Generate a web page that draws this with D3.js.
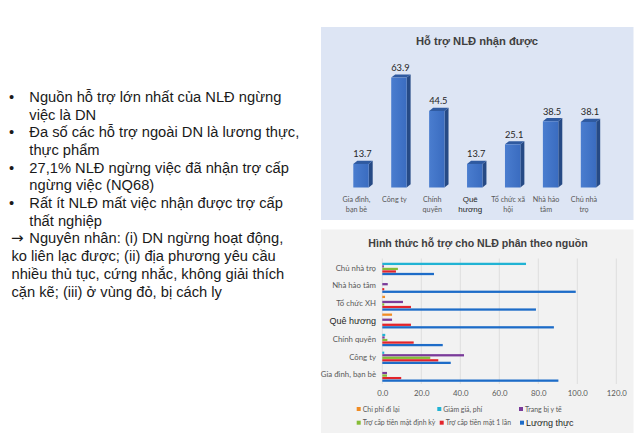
<!DOCTYPE html>
<html><head><meta charset="utf-8">
<script src="https://cdn.jsdelivr.net/npm/d3@7"></script>
<style>body{margin:0;background:#fff;}svg{display:block;}</style>
</head><body>
<svg id="c" width="640" height="437"></svg>
<script>
// ---------- Data ----------
const bulletLines = [
  ["•", "Nguồn hỗ trợ lớn nhất của NLĐ ngừng"],
  ["", "việc là DN"],
  ["•", "Đa số các hỗ trợ ngoài DN là lương thực,"],
  ["", "thực phẩm"],
  ["•", "27,1% NLĐ ngừng việc đã nhận trợ cấp"],
  ["", "ngừng việc (NQ68)"],
  ["•", "Rất ít NLĐ mất việc nhận được trợ cấp"],
  ["", "thất nghiệp"]
];
const causeLines = [
  ["→", "Nguyên nhân: (i) DN ngừng hoạt động,"],
  ["", "ko liên lạc được; (ii) địa phương yêu cầu"],
  ["", "nhiều thủ tục, cứng nhắc, không giải thích"],
  ["", "cặn kẽ; (iii) ở vùng đỏ, bị cách ly"]
];

const topTitle = "Hỗ trợ NLĐ nhận được";
const topCategories = ["Gia đình, bạn bè", "Công ty", "Chính quyền", "Quê hương", "Tổ chức xã hội", "Nhà hảo tâm", "Chủ nhà trọ"];
const topLabelLines = [["Gia đình,", "bạn bè"], ["Công ty"], ["Chính", "quyền"], ["Quê", "hương"], ["Tổ chức xã", "hội"], ["Nhà hảo", "tâm"], ["Chủ nhà", "trọ"]];
const topValues = [13.7, 63.9, 44.5, 13.7, 25.1, 38.5, 38.1];

const bottomTitle = "Hình thức hỗ trợ cho NLĐ phân theo nguồn";
const bottomCategories = ["Chủ nhà trọ", "Nhà hảo tâm", "Tổ chức XH", "Quê hương", "Chính quyền", "Công ty", "Gia đình, bạn bè"];
const seriesNames = ["Chi phí đi lại", "Giảm giá, phí", "Trang bị y tế", "Trợ cấp tiền mặt định kỳ", "Trợ cấp tiền mặt 1 lần", "Lương thực"];
const chiPhiDiLai   = [0,    0,    1.4,  5.0,  0,    0,    0];
const giamGiaPhi    = [73.7, 0,    0,    0,    1.5,  1.0,  0];
const trangBiYTe    = [0.8,  2.8,  10.6, 5.0,  1.2,  41.9, 2.4];
const troCapDinhKy  = [8.0,  0,    1.0,  0,    2.6,  24.6, 2.4];
const troCap1Lan    = [7.0,  1.0,  14.7, 14.7, 16.1, 28.7, 9.7];
const luongThuc     = [26.5, 99.2, 78.8, 88.0, 31.0, 35.1, 90.3];
const xTicks = [0, 20, 40, 60, 80, 100, 120];

// ---------- Styles ----------
const seriesColors = ["#f08c24", "#21b3d4", "#7a3b9a", "#86bc36", "#e3242b", "#1d6cc8"];
const seriesData = [chiPhiDiLai, giamGiaPhi, trangBiYTe, troCapDinhKy, troCap1Lan, luongThuc];
const svg = d3.select("#c");
const chartFont = "Lato, 'Open Sans', sans-serif";

// ---------- Left text ----------
const txt = svg.append("g").attr("font-family", "'Liberation Sans', Arial, sans-serif")
  .attr("font-size", 14.7).attr("fill", "#1a1a1a");
const lineH = 17.7, y0 = 101.8;
bulletLines.forEach((l, i) => {
  if (l[0]) txt.append("text").attr("x", 9).attr("y", y0 + i * lineH).text(l[0]);
  txt.append("text").attr("x", 29.3).attr("y", y0 + i * lineH).text(l[1]);
});
causeLines.forEach((l, i) => {
  const yy = y0 + (bulletLines.length + i) * lineH;
  if (l[0]) {
    txt.append("text").attr("x", 11).attr("y", yy).attr("font-family", "'DejaVu Sans', sans-serif")
      .attr("font-size", 15).attr("textLength", 16).text(l[0]);
    txt.append("text").attr("x", 29.3).attr("y", yy).text(l[1]);
  } else {
    txt.append("text").attr("x", 11.5).attr("y", yy).text(l[1]);
  }
});

// ---------- Top chart ----------
svg.append("rect").attr("x", 321).attr("y", 27).attr("width", 312.5).attr("height", 193).attr("fill", "#dde5f4");
svg.append("text").attr("x", 477).attr("y", 45).attr("text-anchor", "middle")
  .attr("font-family", "'Liberation Sans', Arial, sans-serif").attr("font-weight", "bold")
  .attr("font-size", 11.2).attr("fill", "#404040").text(topTitle);

const defs = svg.append("defs");
const grad = defs.append("linearGradient").attr("id", "gfront").attr("x1", 0).attr("x2", 1).attr("y1", 0).attr("y2", 0);
grad.append("stop").attr("offset", "0%").attr("stop-color", "#4a7dcf");
grad.append("stop").attr("offset", "100%").attr("stop-color", "#3a6cc0");

const xt = d3.scalePoint().domain(topCategories).range([361, 588.5]);
const yt = d3.scaleLinear().domain([0, 70]).range([187.5, 67.1]);
const bw = 15.4, dx = 4, dy = 3.2;
const tg = svg.append("g");
topCategories.forEach((c, i) => {
  const v = topValues[i];
  const x0 = xt(c) - bw / 2, x1 = xt(c) + bw / 2;
  const yTop = yt(v), yB = yt(0);
  tg.append("path").attr("d", `M${x1},${yTop}L${x1 + dx},${yTop - dy}L${x1 + dx},${yB - dy}L${x1},${yB}Z`).attr("fill", "#264a85");
  tg.append("path").attr("d", `M${x0},${yTop}L${x0 + dx},${yTop - dy}L${x1 + dx},${yTop - dy}L${x1},${yTop}Z`).attr("fill", "#2f5aa0");
  tg.append("rect").attr("x", x0).attr("y", yTop).attr("width", bw).attr("height", yB - yTop).attr("fill", "url(#gfront)");
  tg.append("text").attr("x", xt(c) + 1.5).attr("y", yTop - 6.5).attr("text-anchor", "middle")
    .attr("font-family", chartFont).attr("font-size", 9.3).attr("fill", "#262626").text(v.toFixed(1));
  const isQ = c === "Quê hương";
  topLabelLines[i].forEach((ln, j) => {
    tg.append("text").attr("x", xt(c) - 4.5).attr("y", 202 + j * 10).attr("text-anchor", "middle")
      .attr("font-family", isQ ? "'Liberation Sans', Arial, sans-serif" : chartFont)
      .attr("font-size", isQ ? 8 : 7.2).attr("fill", isQ ? "#262626" : "#595959").text(ln);
  });
});

// ---------- Bottom chart ----------
svg.append("rect").attr("x", 321).attr("y", 229.5).attr("width", 312.5).attr("height", 203.5).attr("fill", "#f2f2f2");
svg.append("text").attr("x", 478).attr("y", 247).attr("text-anchor", "middle")
  .attr("font-family", "'Liberation Sans', Arial, sans-serif").attr("font-weight", "bold")
  .attr("font-size", 10.6).attr("fill", "#404040").text(bottomTitle);

const xb = d3.scaleLinear().domain([0, 120]).range([382.3, 616.3]);
const yb = d3.scaleBand().domain(bottomCategories).range([258.8, 383.2]).paddingInner(0.16).paddingOuter(0.08);
const ys = d3.scaleBand().domain(seriesNames).range([0, yb.bandwidth()]).paddingInner(0.1);

const bg = svg.append("g");
bg.selectAll("line.grid").data(xTicks).join("line")
  .attr("x1", d => xb(d)).attr("x2", d => xb(d)).attr("y1", 258.5).attr("y2", 384)
  .attr("stroke", "#d9d9d9").attr("stroke-width", 0.8);

const xAxis = d3.axisBottom(xb).tickValues(xTicks).tickFormat(d3.format(".1f")).tickSize(0).tickPadding(0);
const ax = bg.append("g").attr("transform", "translate(0,396)").call(xAxis);
ax.select(".domain").remove();
ax.selectAll("text").attr("font-family", chartFont).attr("font-size", 7.8).attr("fill", "#595959").attr("dy", 0);

seriesNames.forEach((s, si) => {
  bg.append("g").selectAll("rect").data(bottomCategories).join("rect")
    .attr("x", xb(0))
    .attr("y", (c) => yb(c) + ys(s))
    .attr("width", (c, ci) => xb(seriesData[si][ci]) - xb(0))
    .attr("height", ys.bandwidth())
    .attr("fill", seriesColors[si]);
});

bottomCategories.forEach(c => {
  const isQ = c === "Quê hương";
  bg.append("text").attr("x", 376).attr("y", yb(c) + yb.bandwidth() / 2 + 3)
    .attr("text-anchor", "end").attr("font-family", isQ ? "'Liberation Sans', Arial, sans-serif" : chartFont)
    .attr("font-size", isQ ? 9 : 7.8).attr("fill", isQ ? "#262626" : "#595959").text(c);
});

// legend
const legPos = [[358.7, 409], [439.3, 409], [521, 409], [358.7, 422.7], [441.7, 422.7], [522, 422.7]];
seriesNames.forEach((s, i) => {
  const [lx, ly] = legPos[i];
  const isL = s === "Lương thực";
  bg.append("rect").attr("x", lx - 2).attr("y", ly - 2).attr("width", 4).attr("height", 4).attr("fill", seriesColors[i]);
  bg.append("text").attr("x", lx + 4).attr("y", ly + (isL ? 3.2 : 2.5))
    .attr("font-family", isL ? "'Liberation Sans', Arial, sans-serif" : chartFont)
    .attr("font-size", isL ? 9 : 6.9).attr("fill", isL ? "#262626" : "#595959").text(s);
});
</script>
</body></html>
